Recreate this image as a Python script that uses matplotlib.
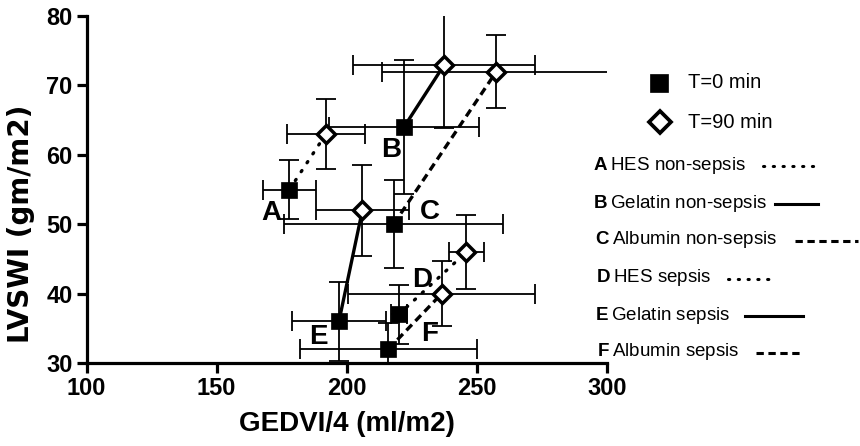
import matplotlib
matplotlib.use("Agg")
import matplotlib.pyplot as plt
from matplotlib.lines import Line2D

plt.rcParams['font.family'] = ['Liberation Sans', 'DejaVu Sans']
plt.rcParams['mathtext.fontset'] = 'custom'
plt.rcParams['mathtext.bf'] = 'Liberation Sans:bold'
plt.rcParams['mathtext.rm'] = 'Liberation Sans'

# Group letters and descriptions
groups = ['A', 'B', 'C', 'D', 'E', 'F']
group_names = ['HES non-sepsis', 'Gelatin non-sepsis', 'Albumin non-sepsis',
               'HES sepsis', 'Gelatin sepsis', 'Albumin sepsis']
group_styles = ['dotted', 'solid', 'dashed', 'dotted', 'solid', 'dashed']

# T = 0 min (mean +/- error)
gedvi_t0 = [178, 222, 218, 220, 197, 216]
gedvi_t0_err = [10, 29, 42, 3, 18, 34]
lvswi_t0 = [55, 64, 50, 37, 36, 32]
lvswi_t0_err = [4.3, 9.6, 6.3, 4.3, 5.7, 3.7]

# T = 90 min (mean +/- error)
gedvi_t90 = [192, 237.5, 257.5, 246, 206, 236.5]
gedvi_t90_err = [15, 35, 44, 6.7, 18, 36]
lvswi_t90 = [63, 73, 72, 46, 52, 40]
lvswi_t90_err = [5, 9.2, 5.3, 5.3, 6.6, 4.7]

# Letter label anchor points (data coordinates)
label_x = [171, 217, 232, 229, 189, 232]
label_y = [51.6, 60.7, 51.7, 42, 33.8, 34.2]

x_ticks = [100, 150, 200, 250, 300]
y_ticks = [30, 40, 50, 60, 70, 80]
time_labels = ['T=0 min', 'T=90 min']

W, H = 860, 446
fig = plt.figure(figsize=(W / 100, H / 100), dpi=100)
ax = fig.add_axes([86.5 / W, 1 - 363 / H, (607 - 86.5) / W, (363 - 16) / H])

line_kw = {
    'dotted': dict(linestyle=(0, (0.4, 2.8)), dash_capstyle='round'),
    'solid': dict(linestyle='-'),
    'dashed': dict(linestyle=(0, (2.4, 1.5)), dash_capstyle='butt'),
}

for i in range(len(groups)):
    ax.plot([gedvi_t0[i], gedvi_t90[i]], [lvswi_t0[i], lvswi_t90[i]],
            color='black', lw=2.4, zorder=2, **line_kw[group_styles[i]])

eb_kw = dict(fmt='none', ecolor='black', elinewidth=1.3, capsize=7,
             capthick=1.3, zorder=1)
ax.errorbar(gedvi_t0, lvswi_t0, xerr=gedvi_t0_err, yerr=lvswi_t0_err, **eb_kw)
ax.errorbar(gedvi_t90, lvswi_t90, xerr=gedvi_t90_err, yerr=lvswi_t90_err, **eb_kw)

sq_style = dict(linestyle='none', marker='s', ms=11.5, mfc='black',
                mec='black', mew=0.5)
dm_style = dict(linestyle='none', marker='D', ms=9.5, mfc='white',
                mec='black', mew=2.5)
ax.plot(gedvi_t0, lvswi_t0, zorder=4, **sq_style)
ax.plot(gedvi_t90, lvswi_t90, zorder=4, **dm_style)

for g, lx, ly in zip(groups, label_x, label_y):
    ax.text(lx, ly, g, ha='center', va='center', fontsize=20,
            fontweight='bold', zorder=5)

ax.set_xlim(100, 300)
ax.set_ylim(30, 80)
ax.set_xticks(x_ticks)
ax.set_yticks(y_ticks)
for s in ['top', 'right']:
    ax.spines[s].set_visible(False)
for s in ['left', 'bottom']:
    ax.spines[s].set_linewidth(2.3)
ax.tick_params(direction='out', length=7, width=2.3, labelsize=17, pad=3)
for lab in ax.get_xticklabels() + ax.get_yticklabels():
    lab.set_fontweight('bold')

ax.set_xlabel('GEDVI/4 (ml/m2)', fontsize=20, fontweight='bold', labelpad=8)
ax.set_ylabel('LVSWI (gm/m2)', fontsize=20, fontweight='bold',
              family='DejaVu Sans')
ax.yaxis.set_label_coords(-0.099, 0.40)


def fx(px):
    return px / W


def fy(py):
    return 1 - py / H


# Marker key
key_styles = [dict(sq_style, ms=12.5), dict(dm_style, ms=11, mew=2.7)]
key_x = [659, 660]
key_y = [83, 122]
for style, kx, ky, lab in zip(key_styles, key_x, key_y, time_labels):
    fig.add_artist(Line2D([fx(kx)], [fy(ky)], transform=fig.transFigure,
                          **style))
    fig.text(fx(688), fy(ky), lab, fontsize=14.5, va='center', ha='left')

# Group key: bold letter, description, then line sample
rows_y = [165, 203, 240, 278, 315, 352]
text_x = [593, 593, 595, 596, 595, 597]
seg_x = [(763, 820), (775, 818), (795, 858), (728, 773), (745, 803), (756, 801)]
for i in range(len(groups)):
    fig.text(fx(text_x[i]), fy(rows_y[i]),
             r'$\mathbf{%s}$' % groups[i] + '\u2009' + group_names[i],
             fontsize=13.5, va='center', ha='left')
    fig.add_artist(Line2D([fx(seg_x[i][0]), fx(seg_x[i][1])],
                          [fy(rows_y[i] + 1), fy(rows_y[i] + 1)],
                          transform=fig.transFigure, color='black', lw=2.2,
                          **line_kw[group_styles[i]]))

fig.savefig('out.png', dpi=100)
